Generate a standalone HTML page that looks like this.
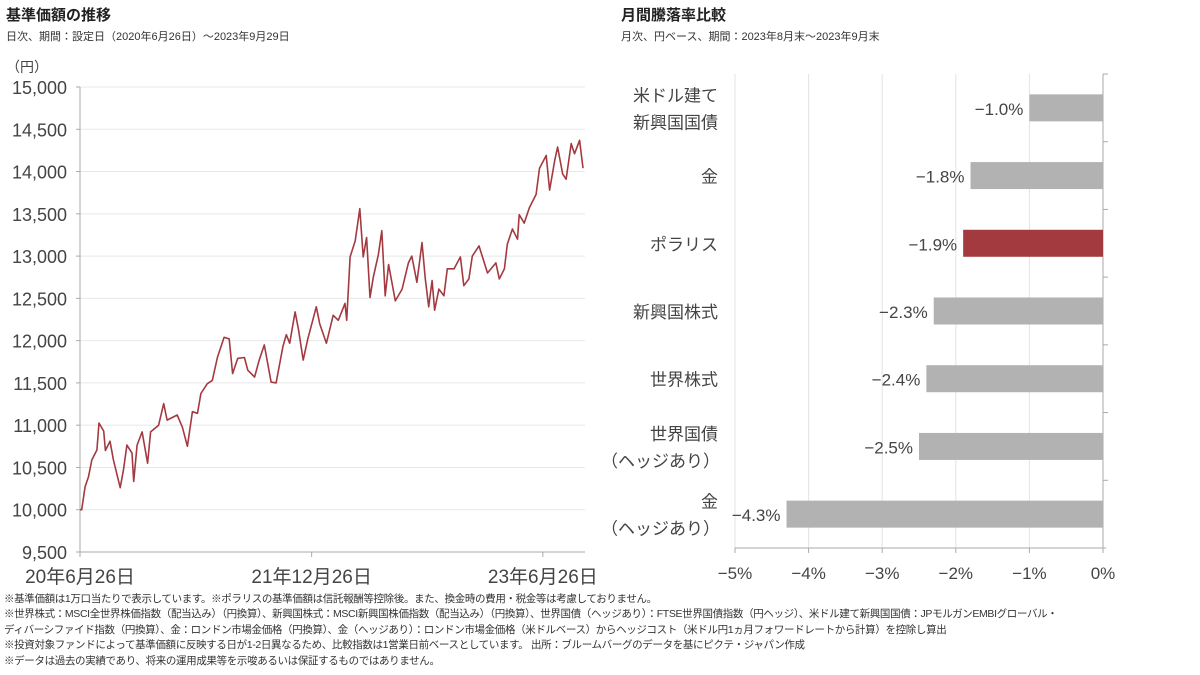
<!DOCTYPE html>
<html><head><meta charset="utf-8">
<style>
body{margin:0;background:#fff;font-family:"Liberation Sans","Noto Sans CJK JP",sans-serif;color:#333;}
#wrap{position:relative;width:1200px;height:675px;overflow:hidden;}
.t{position:absolute;white-space:nowrap;}
</style></head><body>
<div id="wrap">
<div class="t" style="left:6px;top:4px;font-size:15px;font-weight:bold;color:#222;">基準価額の推移</div>
<div class="t" style="left:6px;top:28px;font-size:11px;color:#333;">日次、期間：設定日（2020年6月26日）～2023年9月29日</div>
<div class="t" style="left:621px;top:4px;font-size:15px;font-weight:bold;color:#222;">月間騰落率比較</div>
<div class="t" style="left:621px;top:28px;font-size:11px;color:#333;">月次、円ベース、期間：2023年8月末～2023年9月末</div>
<svg id="lc" width="600" height="590" style="position:absolute;left:0;top:0"></svg>
<svg id="rc" width="600" height="590" style="position:absolute;left:600px;top:0"></svg>
<div style="position:absolute;left:4px;top:592px;font-size:10.5px;line-height:15.4px;color:#333;letter-spacing:-0.35px;white-space:nowrap;">
<div>※基準価額は1万口当たりで表示しています。※ポラリスの基準価額は信託報酬等控除後。また、換金時の費用・税金等は考慮しておりません。</div>
<div>※世界株式：MSCI全世界株価指数（配当込み）（円換算）、新興国株式：MSCI新興国株価指数（配当込み）（円換算）、世界国債（ヘッジあり）：FTSE世界国債指数（円ヘッジ）、米ドル建て新興国国債：JPモルガンEMBIグローバル・</div>
<div>ディバーシファイド指数（円換算）、金：ロンドン市場金価格（円換算）、金（ヘッジあり）：ロンドン市場金価格（米ドルベース）からヘッジコスト（米ドル円1ヵ月フォワードレートから計算）を控除し算出</div>
<div>※投資対象ファンドによって基準価額に反映する日が1-2日異なるため、比較指数は1営業日前ベースとしています。 出所：ブルームバーグのデータを基にピクテ・ジャパン作成</div>
<div>※データは過去の実績であり、将来の運用成果等を示唆あるいは保証するものではありません。</div>
</div>
</div>
<script>
// ---- Left chart data ----
const navDays=[0,4,12,20,28,40,45,56,60,71,79,95,103,111,123,127,135,147,160,167,186,198,206,230,242,254,266,278,286,301,313,325,341,353,361,373,389,397,413,424,436,444,452,464,480,488,496,509,517,528,539,559,567,583,599,611,627,631,639,651,662,670,678,686,694,706,714,722,730,746,762,777,785,797,809,817,825,833,839,849,861,869,885,900,908,920,928,944,964,984,992,1004,1011,1023,1035,1039,1051,1063,1079,1087,1103,1111,1123,1130,1142,1150,1162,1170,1182,1190];
const navValues=[10000,10000,10272,10390,10588,10706,11026,10930,10700,10810,10590,10260,10475,10765,10670,10335,10765,10920,10550,10920,11000,11255,11060,11120,10980,10750,11160,11140,11375,11490,11530,11800,12040,12020,11610,11790,11800,11650,11570,11770,11950,11730,11510,11500,11930,12070,11970,12340,12130,11770,12020,12400,12200,11970,12300,12240,12440,12240,12990,13180,13560,12990,13220,12510,12750,13020,13300,12530,12900,12470,12610,12920,13000,12690,13160,12730,12400,12710,12360,12610,12530,12850,12850,12990,12650,12730,13000,13120,12800,12920,12730,12850,13140,13320,13200,13490,13390,13570,13730,14040,14190,13780,14130,14290,13970,13910,14330,14210,14370,14040];
const yTicks=[9500,10000,10500,11000,11500,12000,12500,13000,13500,14000,14500,15000];
const xTickDays=[0,548,1095];
const xTickLabels=["20年6月26日","21年12月26日","23年6月26日"];
// ---- Right chart data ----
const categories=[["米ドル建て","新興国国債"],["金"],["ポラリス"],["新興国株式"],["世界株式"],["世界国債","（ヘッジあり）"],["金","（ヘッジあり）"]];
const returns=[-1.0,-1.8,-1.9,-2.3,-2.4,-2.5,-4.3];
const highlight=[false,false,true,false,false,false,false];
const pctTicks=[-5,-4,-3,-2,-1,0];

const NS="http://www.w3.org/2000/svg";
function mk(p,tag,at,txt){const e=document.createElementNS(NS,tag);for(const k in at)e.setAttribute(k,at[k]);if(txt!==undefined)e.textContent=txt;p.appendChild(e);return e;}

// Left
const lc=document.getElementById('lc');
const X0=80,X1=583,Y0=552,Y1=87;
const xs=d=>X0+d/1190*(X1-X0);
const ys=v=>Y0-(v-9500)/5500*(Y0-Y1);
yTicks.forEach(v=>{
  if(v>9500){const g=mk(lc,'line',{x1:X0,x2:X1+2,y1:ys(v),y2:ys(v),stroke:'#e8e8e8','stroke-width':1});
  
  }
  const t=mk(lc,'text',{x:67,y:ys(v)+7,'text-anchor':'end','font-size':'18','fill':'#444','font-family':'Liberation Sans, sans-serif'},v.toLocaleString('en-US'));
  
  
  const tk=mk(lc,'line',{x1:X0-4,x2:X0,y1:ys(v),y2:ys(v),stroke:'#aaa'});
  
  
});
const yu=mk(lc,'text',{x:6,y:72,'font-size':'14','fill':'#444'},'（円）');


const ya=mk(lc,'line',{x1:X0,x2:X0,y1:Y1,y2:Y0,stroke:'#aaa'});


const xa=mk(lc,'line',{x1:X0,x2:X1+2,y1:Y0,y2:Y0,stroke:'#aaa'});


xTickDays.forEach((d,i)=>{
  const tk=mk(lc,'line',{x1:xs(d),x2:xs(d),y1:Y0,y2:Y0+5,stroke:'#aaa'});
  
  
  const t=mk(lc,'text',{x:xs(d),y:Y0+31,'text-anchor':'middle','font-size':'19','fill':'#444'},xTickLabels[i]);
  
  
});
const pts=navDays.map((d,i)=>xs(d).toFixed(1)+','+ys(navValues[i]).toFixed(1)).join(' ');
const pl=mk(lc,'polyline',{points:pts,fill:'none',stroke:'#a33a40','stroke-width':1.6,'stroke-linejoin':'round'});



// Right (local coords: offset 600)
const rc=document.getElementById('rc');
const RX0=135,RX1=503,RT=74,RB=548;
const px=p=>RX1+p/5*(RX1-RX0);
const step=(RB-RT)/categories.length;
pctTicks.forEach(p=>{
  if(p<0){const g=mk(rc,'line',{x1:px(p),x2:px(p),y1:RT,y2:RB,stroke:'#e3e3e3'});
  
  }
  const tk=mk(rc,'line',{x1:px(p),x2:px(p),y1:RB,y2:RB+5,stroke:'#aaa'});
  
  
  const t=mk(rc,'text',{x:px(p),y:RB+31,'text-anchor':'middle','font-size':'17','fill':'#444'},(p<0?'−':'')+Math.abs(p)+'%');
  
  
});
const rxa=mk(rc,'line',{x1:RX0,x2:RX1+3,y1:RB,y2:RB,stroke:'#aaa'});


const rya=mk(rc,'line',{x1:RX1,x2:RX1,y1:RT,y2:RB,stroke:'#aaa'});


categories.forEach((c,i)=>{
  const cy=RT+step*(i+0.5);
  const tk=mk(rc,'line',{x1:RX1,x2:RX1+5,y1:RT+step*i,y2:RT+step*i,stroke:'#aaa'});
  
  
  const x=px(returns[i]);
  const b=mk(rc,'rect',{x:x,y:cy-13.5,width:RX1-x,height:27,fill:highlight[i]?'#a33a40':'#b2b2b2'});
  
  
  const v=mk(rc,'text',{x:x-6,y:cy+7,'text-anchor':'end','font-size':'17','fill':'#444'},'−'+Math.abs(returns[i]).toFixed(1)+'%');
  
  
  const n=c.length;
  c.forEach((line,j)=>{
    const t=mk(rc,'text',{x:line.startsWith('（')?120:118,y:cy+7+(j-(n-1)/2)*27,'text-anchor':'end','font-size':'17','fill':'#444','font-family':'Liberation Sans, Noto Sans CJK JP, sans-serif'},line);
    
    
  });
});
</script>
</body></html>
